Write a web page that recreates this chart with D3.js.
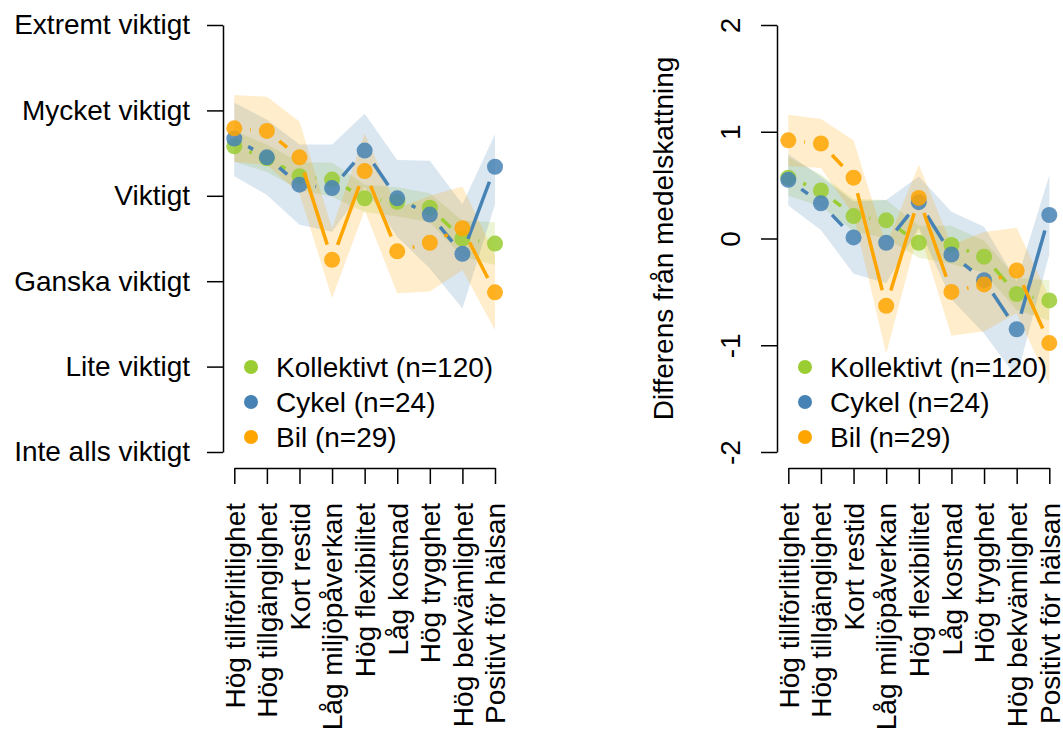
<!DOCTYPE html>
<html>
<head>
<meta charset="utf-8">
<script src="https://cdn.jsdelivr.net/npm/d3@7"></script>
<style>
  body { margin: 0; background: #fff; }
  svg text { font-family: "Liberation Sans", Arial, sans-serif; font-size: 28px; fill: #000; }
</style>
</head>
<body>
<div id="chart"></div>
<script>
/* Categories on the x-axis. */
const categories = ["Hög tillförlitlighet", "Hög tillgänglighet", "Kort restid", "Låg miljöpåverkan",
  "Hög flexibilitet", "Låg kostnad", "Hög trygghet", "Hög bekvämlighet", "Positivt för hälsan"]

/* Groups. */
const seriesNames = ["Kollektivt (n=120)", "Cykel (n=24)", "Bil (n=29)"]
const seriesColors = ["#9ACD32", "#4682B4", "#FFA500"]

/* Left panel: ratings (0 = Inte alls viktigt ... 5 = Extremt viktigt). */
const ratingTicks = [0, 1, 2, 3, 4, 5]
const ratingLabels = ["Inte alls viktigt", "Lite viktigt", "Ganska viktigt", "Viktigt", "Mycket viktigt", "Extremt viktigt"]

const kollMean = [3.58, 3.44, 3.23, 3.19, 2.97, 2.93, 2.86, 2.50, 2.44]
const kollLo = [3.40, 3.28, 3.07, 2.99, 2.81, 2.76, 2.69, 2.29, 2.19]
const kollHi = [3.76, 3.60, 3.39, 3.39, 3.13, 3.10, 3.03, 2.71, 2.69]

const cykelMean = [3.67, 3.45, 3.13, 3.09, 3.53, 2.97, 2.78, 2.32, 3.34]
const cykelLo = [3.23, 3.01, 2.66, 2.58, 3.10, 2.52, 2.15, 1.68, 2.90]
const cykelHi = [4.09, 3.89, 3.60, 3.60, 3.96, 3.42, 3.41, 2.90, 3.72]

const bilMean = [3.79, 3.76, 3.45, 2.25, 3.29, 2.35, 2.45, 2.62, 1.87]
const bilLo = [3.40, 3.36, 3.03, 1.80, 2.83, 1.86, 1.88, 2.13, 1.43]
const bilHi = [4.18, 4.16, 3.87, 2.62, 3.73, 2.85, 3.00, 3.11, 2.31]

/* Right panel: difference from the mean rating. */
const diffTicks = [-2, -1, 0, 1, 2]

const kollMeanR = [0.57, 0.45, 0.21, 0.17, -0.04, -0.06, -0.17, -0.52, -0.58]
const kollLoR = [0.40, 0.30, 0.07, 0.00, -0.18, -0.24, -0.32, -0.67, -0.77]
const kollHiR = [0.76, 0.60, 0.37, 0.36, 0.12, 0.12, -0.02, -0.37, -0.39]

const cykelMeanR = [0.55, 0.33, 0.01, -0.04, 0.34, -0.15, -0.39, -0.85, 0.22]
const cykelLoR = [0.31, 0.08, -0.33, -0.42, 0.10, -0.57, -0.89, -1.30, -0.15]
const cykelHiR = [0.79, 0.58, 0.35, 0.36, 0.58, 0.25, 0.11, -0.40, 0.59]

const bilMeanR = [0.92, 0.89, 0.57, -0.63, 0.38, -0.50, -0.43, -0.30, -0.98]
const bilLoR = [0.68, 0.66, 0.22, -1.08, 0.08, -0.91, -0.87, -0.70, -1.37]
const bilHiR = [1.16, 1.12, 0.92, -0.06, 0.69, -0.06, 0.06, 0.10, -0.55]

/* Create svg-element. */
const width = 1063
const height = 730

const svg = d3.select("#chart")
  .append("svg")
  .attr("width", width)
  .attr("height", height)

/* Shared geometry. */
const plotTop = 25
const plotBottom = 452
const xAxisY = 468
const gap = 16
const pointRadius = 8

/* Draw lines with a gap around every point (like type = "b"). */
const drawGappedLine = (g, pts, color) => {
  for (let i = 0; i < pts.length - 1; i++) {
    const [x0, y0] = pts[i]
    const [x1, y1] = pts[i + 1]
    const d = Math.hypot(x1 - x0, y1 - y0)
    if (d <= 2 * gap) continue
    const ux = (x1 - x0) / d
    const uy = (y1 - y0) / d
    g.append("line")
      .attr("x1", x0 + ux * gap)
      .attr("y1", y0 + uy * gap)
      .attr("x2", x1 - ux * gap)
      .attr("y2", y1 - uy * gap)
      .attr("stroke", color)
      .attr("stroke-width", 3.5)
  }
}

/* Define drawPanel. */
const drawPanel = (opts) => {
  const g = svg.append("g")

  const x = d3.scalePoint()
    .domain(categories)
    .range(opts.xRange)

  const y = d3.scaleLinear()
    .domain(opts.yDomain)
    .range([plotBottom, plotTop])

  const area = d3.area()
    .x((d, i) => x(categories[i]))
    .y0(d => y(d[0]))
    .y1(d => y(d[1]))

  /* Confidence bands. */
  opts.series.forEach((s, k) => {
    g.append("path")
      .datum(s.lo.map((v, i) => [v, s.hi[i]]))
      .attr("d", area)
      .attr("fill", seriesColors[k])
      .attr("fill-opacity", 0.2)
  })

  /* Lines and points. */
  opts.series.forEach((s, k) => {
    const pts = s.mean.map((v, i) => [x(categories[i]), y(v)])
    drawGappedLine(g, pts, seriesColors[k])
    g.selectAll(null)
      .data(pts)
      .enter()
      .append("circle")
      .attr("cx", d => d[0])
      .attr("cy", d => d[1])
      .attr("r", pointRadius)
      .attr("fill", seriesColors[k])
      .attr("fill-opacity", 0.85)
  })

  /* x-axis. */
  const xAxis = g.append("g")
    .attr("transform", `translate(0,${xAxisY})`)
    .call(d3.axisBottom(x).tickSize(16).tickSizeOuter(0))

  xAxis.selectAll("text")
    .attr("transform", "rotate(-90)")
    .attr("text-anchor", "end")
    .attr("x", -35)
    .attr("y", 0)
    .attr("dy", "0.35em")

  /* y-axis. */
  const yAxis = g.append("g")
    .attr("transform", `translate(${opts.plotLeft},0)`)
    .call(d3.axisLeft(y)
      .tickValues(opts.yTicks)
      .tickFormat(opts.yFormat)
      .tickSize(16)
      .tickSizeOuter(0)
      .tickPadding(17))

  if (opts.rotateY) {
    yAxis.selectAll(".tick text")
      .attr("x", null)
      .attr("dy", null)
      .attr("text-anchor", "middle")
      .attr("transform", "translate(-37,0) rotate(-90)")
  }

  g.selectAll(".domain, .tick line")
    .attr("stroke", "#000")
    .attr("stroke-width", 1.5)
  g.selectAll(".tick text")
    .attr("fill", "#000")
    .style("font-size", "28px")
    .style("font-family", "\"Liberation Sans\", Arial, sans-serif")

  /* y-axis title. */
  if (opts.yTitle) {
    g.append("text")
      .attr("transform", `translate(${opts.plotLeft - 104},${(plotTop + plotBottom) / 2}) rotate(-90)`)
      .attr("text-anchor", "middle")
      .text(opts.yTitle)
  }

  /* Legend. */
  const legend = g.append("g")
  seriesNames.forEach((name, k) => {
    const ly = 367 + k * 35
    legend.append("circle")
      .attr("cx", opts.plotLeft + 28)
      .attr("cy", ly)
      .attr("r", 7)
      .attr("fill", seriesColors[k])
    legend.append("text")
      .attr("x", opts.plotLeft + 53)
      .attr("y", ly)
      .attr("dy", "0.35em")
      .text(name)
  })
}

/* Left panel. */
drawPanel({
  xRange: [234.3, 495],
  plotLeft: 223,
  yDomain: [0, 5],
  yTicks: ratingTicks,
  yFormat: d => ratingLabels[d],
  rotateY: false,
  series: [
    { mean: kollMean, lo: kollLo, hi: kollHi },
    { mean: cykelMean, lo: cykelLo, hi: cykelHi },
    { mean: bilMean, lo: bilLo, hi: bilHi }
  ]
})

/* Right panel. */
drawPanel({
  xRange: [788.3, 1049.3],
  plotLeft: 777,
  yDomain: [-2, 2],
  yTicks: diffTicks,
  yFormat: d => String(d),
  rotateY: true,
  yTitle: "Differens från medelskattning",
  series: [
    { mean: kollMeanR, lo: kollLoR, hi: kollHiR },
    { mean: cykelMeanR, lo: cykelLoR, hi: cykelHiR },
    { mean: bilMeanR, lo: bilLoR, hi: bilHiR }
  ]
})
</script>
</body>
</html>
